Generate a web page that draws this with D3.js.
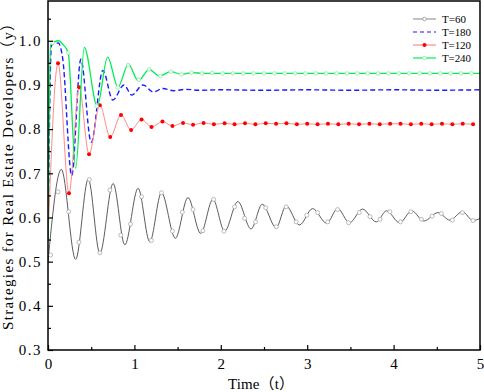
<!DOCTYPE html>
<html>
<head>
<meta charset="utf-8">
<script src="https://cdn.jsdelivr.net/npm/d3@7"></script>
<style>
  body { margin: 0; background: #fff; }
  svg text { font-family: "Liberation Serif", "Noto Sans CJK SC", serif; fill: #000; }
</style>
</head>
<body>
<div id="chart"></div>
<script>
// ---- data ----
const xTicks = [0, 1, 2, 3, 4, 5];
const yTicks = [0.3, 0.4, 0.5, 0.6, 0.7, 0.8, 0.9, 1.0];
const seriesNames = ['T=60', 'T=180', 'T=120', 'T=240'];

// T=60 : line through the turning points, open circle markers
const t60 = [0, 0.154, 0.32, 0.466, 0.60, 0.754, 0.889, 1.043, 1.178, 1.313, 1.474, 1.62, 1.767, 1.909, 2.044, 2.197,
  2.35, 2.48, 2.64, 2.756, 2.91, 3.063, 3.225, 3.352, 3.49, 3.64, 3.80, 3.918, 4.07, 4.21, 4.35, 4.515, 4.65, 4.796, 4.92, 5.0];
const y60 = [0.50, 0.709, 0.505, 0.687, 0.519, 0.677, 0.538, 0.666, 0.545, 0.656, 0.553, 0.645, 0.564, 0.641, 0.569, 0.636,
  0.574, 0.630, 0.577, 0.626, 0.583, 0.620, 0.587, 0.620, 0.588, 0.619, 0.590, 0.615, 0.588, 0.615, 0.592, 0.611, 0.594, 0.613, 0.593, 0.598];
const t60Mark = [0.03, 0.115, 0.239, 0.358, 0.479, 0.600, 0.716, 0.843, 0.955, 1.082, 1.197, 1.313, 1.440, 1.555, 1.678, 1.793,
  1.917, 2.036, 2.159, 2.275, 2.402, 2.52, 2.641, 2.756, 2.872, 2.995, 3.121, 3.237, 3.352, 3.479, 3.603, 3.726, 3.842,
  3.957, 4.080, 4.200, 4.322, 4.446, 4.553, 4.680, 4.796, 4.919];
const y60Mark = [0.515, 0.658, 0.613, 0.544, 0.686, 0.520, 0.662, 0.560, 0.585, 0.647, 0.548, 0.656, 0.569, 0.612, 0.618, 0.570,
  0.641, 0.569, 0.624, 0.598, 0.590, 0.622, 0.579, 0.624, 0.590, 0.605, 0.611, 0.590, 0.618, 0.588, 0.611, 0.602, 0.596,
  0.613, 0.590, 0.613, 0.596, 0.603, 0.609, 0.594, 0.611, 0.593];

// T=180 : dashed, no markers
const t180 = [0, 0.04, 0.12, 0.17, 0.274, 0.38, 0.50, 0.635, 0.75, 0.88, 0.97, 1.10, 1.22, 1.33, 1.45, 1.60, 1.75, 2.0, 2.5, 3.0, 3.5, 4.0, 4.5, 5.0];
const y180 = [0.55, 0.99, 0.995, 0.96, 0.695, 0.958, 0.77, 0.933, 0.866, 0.90, 0.877, 0.90, 0.884, 0.892, 0.887, 0.890, 0.888, 0.889, 0.888, 0.889, 0.888, 0.889, 0.888, 0.889];

// T=120 : solid markers on every point
const t120 = [0, 0.116, 0.243, 0.36, 0.475, 0.60, 0.72, 0.845, 0.962, 1.083, 1.198, 1.325, 1.44, 1.563, 1.679, 1.801, 1.92,
  2.044, 2.159, 2.28, 2.40, 2.52, 2.64, 2.76, 2.88, 3.0, 3.12, 3.24, 3.36, 3.48, 3.60, 3.72, 3.84, 3.96, 4.08, 4.20, 4.32,
  4.44, 4.56, 4.68, 4.80, 4.92];
const y120 = [0.55, 0.949, 0.655, 0.895, 0.743, 0.854, 0.782, 0.832, 0.798, 0.822, 0.805, 0.817, 0.807, 0.814, 0.810, 0.814, 0.811,
  0.813, 0.811, 0.813, 0.811, 0.813, 0.812, 0.813, 0.811, 0.812, 0.811, 0.812, 0.811, 0.812, 0.811, 0.812, 0.811, 0.812, 0.812,
  0.811, 0.812, 0.811, 0.812, 0.811, 0.812, 0.811];

// T=240 : line through the turning points, open markers
const t240 = [0, 0.03, 0.12, 0.18, 0.234, 0.32, 0.42, 0.57, 0.69, 0.81, 0.93, 1.045, 1.17, 1.29, 1.42, 1.55, 1.67, 1.80, 2.2, 3.0, 4.0, 5.0];
const y240 = [0.55, 0.99, 1.0, 0.99, 0.973, 0.711, 0.985, 0.852, 0.963, 0.895, 0.947, 0.909, 0.935, 0.920, 0.930, 0.924, 0.928, 0.926, 0.926, 0.926, 0.926, 0.926];
const t240Mark = [0.054, 0.234, 0.562, 0.805, 0.927, 1.051, 1.170, 1.301, 1.420, 1.544, 1.66, 1.78, 1.90, 2.02, 2.14, 2.26, 2.38,
  2.50, 2.62, 2.74, 2.86, 2.98, 3.10, 3.22, 3.34, 3.46, 3.58, 3.70, 3.82, 3.94, 4.06, 4.18, 4.30, 4.42, 4.54, 4.66, 4.78, 4.90];
const y240Mark = [0.995, 0.973, 0.852, 0.894, 0.945, 0.912, 0.935, 0.920, 0.930, 0.924, 0.928, 0.926, 0.927, 0.926, 0.926, 0.926, 0.926,
  0.926, 0.926, 0.926, 0.926, 0.926, 0.926, 0.926, 0.926, 0.926, 0.926, 0.926, 0.926, 0.926, 0.926, 0.926, 0.926, 0.926, 0.926,
  0.926, 0.926, 0.926];

// ---- layout ----
const W = 484, H = 392;
const margin = { top: 1, right: 4, bottom: 42, left: 48 };
const width = W - margin.left - margin.right;
const height = H - margin.top - margin.bottom;

const svg = d3.select('#chart').append('svg')
  .attr('width', W).attr('height', H);
const g = svg.append('g').attr('transform', `translate(${margin.left},${margin.top})`);

const x = d3.scaleLinear().domain([0, 5]).range([0, width]);
const y = d3.scaleLinear().domain([0.3, 1.09]).range([height, 0]);

g.append('defs').append('clipPath').attr('id', 'clip')
  .append('rect').attr('width', width).attr('height', height);

const zip = (ts, vs) => ts.map((t, i) => ({ t, v: vs[i] }));
const line = d3.line().x(d => x(d.t)).y(d => y(d.v)).curve(d3.curveMonotoneX);

const plot = g.append('g').attr('clip-path', 'url(#clip)');

// gray T=60
plot.append('path').datum(zip(t60, y60)).attr('d', line)
  .attr('fill', 'none').attr('stroke', '#4a4a4a').attr('stroke-width', 0.9);
plot.selectAll('.m60').data(zip(t60Mark, y60Mark)).enter().append('circle')
  .attr('class', 'm60').attr('cx', d => x(d.t)).attr('cy', d => y(d.v)).attr('r', 2)
  .attr('fill', '#fff').attr('stroke', '#aaa').attr('stroke-width', 0.8);

// blue T=180
plot.append('path').datum(zip(t180, y180)).attr('d', line)
  .attr('fill', 'none').attr('stroke', '#1a1aff').attr('stroke-width', 1.4)
  .attr('stroke-dasharray', '5,3');

// red T=120
plot.append('path').datum(zip(t120, y120)).attr('d', line)
  .attr('fill', 'none').attr('stroke', '#ff8a8a').attr('stroke-width', 1);
plot.selectAll('.m120').data(zip(t120, y120).slice(1)).enter().append('circle')
  .attr('class', 'm120').attr('cx', d => x(d.t)).attr('cy', d => y(d.v)).attr('r', 2)
  .attr('fill', '#ff0000');

// green T=240
plot.append('path').datum(zip(t240, y240)).attr('d', line)
  .attr('fill', 'none').attr('stroke', '#00ee55').attr('stroke-width', 1.3);
plot.selectAll('.m240').data(zip(t240Mark, y240Mark)).enter().append('circle')
  .attr('class', 'm240').attr('cx', d => x(d.t)).attr('cy', d => y(d.v)).attr('r', 1.8)
  .attr('fill', '#fff').attr('stroke', '#8de8a6').attr('stroke-width', 0.8);

// ---- axes (ticks pointing inward) ----
const xAxis = g.append('g').attr('transform', `translate(0,${height})`)
  .call(d3.axisBottom(x).tickValues(xTicks).tickSizeInner(-5).tickSizeOuter(0).tickPadding(8).tickFormat(d3.format('d')));
const xMinor = g.append('g').attr('transform', `translate(0,${height})`)
  .call(d3.axisBottom(x).tickValues([0.5, 1.5, 2.5, 3.5, 4.5]).tickSize(-3).tickFormat(''));

const yAxis = g.append('g')
  .call(d3.axisLeft(y).tickValues(yTicks).tickSizeInner(-5).tickSizeOuter(0).tickPadding(6).tickFormat(d3.format('.1f')));
const yMinor = g.append('g')
  .call(d3.axisLeft(y).tickValues([0.35, 0.45, 0.55, 0.65, 0.75, 0.85, 0.95, 1.05]).tickSize(-3).tickFormat(''));

[xAxis, xMinor, yAxis, yMinor].forEach(a => {
  a.select('.domain').remove();
  a.selectAll('line').attr('stroke', '#000').attr('stroke-width', 1.2);
  a.selectAll('text').style('font-size', '15px').attr('fill', '#000');
});
xAxis.selectAll('text').attr('dy', '0.75em');
yAxis.selectAll('text').style('letter-spacing', '1.5px');

// frame
g.append('rect').attr('width', width).attr('height', height)
  .attr('fill', 'none').attr('stroke', '#000').attr('stroke-width', 1.5);

// axis titles
svg.append('text').attr('x', 228).attr('y', H - 3)
  .attr('textLength', 66).attr('lengthAdjust', 'spacing')
  .style('font-size', '15px').text('Time（t）');
svg.append('text').attr('transform', `translate(13,330) rotate(-90)`)
  .attr('textLength', 314).attr('lengthAdjust', 'spacing')
  .style('font-size', '15px').text('Strategies for Real Estate Developers（y）');

// ---- legend ----
const legendStyles = [
  { stroke: '#999', dash: null, mark: 'open', mstroke: '#999' },
  { stroke: '#1a1aff', dash: '4,3', mark: null },
  { stroke: '#ff8a8a', dash: null, mark: 'solid', mfill: '#ff0000' },
  { stroke: '#00ee55', dash: null, mark: 'open', mstroke: '#8de8a6' }
];
const legend = svg.append('g').attr('transform', 'translate(413,19)');
seriesNames.forEach((name, i) => {
  const st = legendStyles[i];
  const row = legend.append('g').attr('transform', `translate(0,${i * 13})`);
  row.append('line').attr('x1', 0).attr('x2', 23).attr('stroke', st.stroke)
    .attr('stroke-width', 1.2).attr('stroke-dasharray', st.dash);
  if (st.mark === 'open') {
    row.append('circle').attr('cx', 11.5).attr('r', 1.8).attr('fill', '#fff').attr('stroke', st.mstroke).attr('stroke-width', 0.8);
  } else if (st.mark === 'solid') {
    row.append('circle').attr('cx', 11.5).attr('r', 2).attr('fill', st.mfill);
  }
  row.append('text').attr('x', 29).attr('y', 4).attr('textLength', i === 0 ? 24 : 29)
    .attr('lengthAdjust', 'spacing').style('font-size', '11px').text(name);
});
</script>
</body>
</html>
